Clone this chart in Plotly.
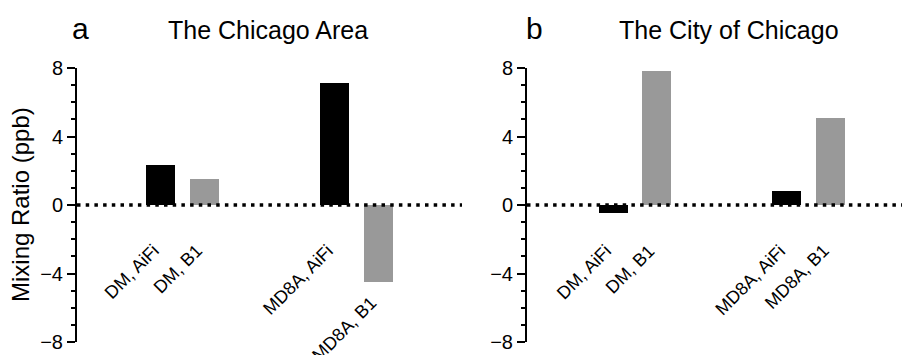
import plotly.graph_objects as go

# ---- data ----
categories = ["DM, AiFi", "DM, B1", "MD8A, AiFi", "MD8A, B1"]
area_values = [2.33, 1.52, 7.12, -4.5]      # The Chicago Area
city_values = [-0.47, 7.83, 0.82, 5.07]     # The City of Chicago
panel_letters = ["a", "b"]
panel_titles = ["The Chicago Area", "The City of Chicago"]
y_ticks = [-8, -4, 0, 4, 8]
y_title = "Mixing Ratio (ppb)"

# ---- layout constants ----
W, H = 910, 355
OFF = 8  # page body margin of the viewer
SLOTS = [0, 1, 4, 5]
BAR_COLORS = ["#000000", "#999999", "#000000", "#999999"]
FONT = "Liberation Sans, Arial, sans-serif"
TOP, BOT = 68 - OFF, 342 - OFF


def px(x):
    return (x - OFF) / W


def py(y):
    return 1 - (y - OFF) / H


panels = [
    dict(values=area_values, dom=(px(77), px(462)), rng=[-1.92, 6.93], ax="x", ay="y"),
    dict(values=city_values, dom=(px(527), px(910)), rng=[-1.98, 6.83], ax="x2", ay="y2"),
]

fig = go.Figure()
annotations = []
shapes = []
ydom = [1 - BOT / H, 1 - TOP / H]

for i, p in enumerate(panels):
    fig.add_trace(go.Bar(
        x=SLOTS, y=p["values"], width=0.667,
        marker=dict(color=BAR_COLORS, line=dict(width=0)),
        xaxis=p["ax"], yaxis=p["ay"], showlegend=False,
    ))
    xk = "xaxis" if i == 0 else "xaxis2"
    yk = "yaxis" if i == 0 else "yaxis2"
    fig.layout[xk] = dict(domain=list(p["dom"]), range=p["rng"], visible=False,
                          anchor=p["ay"], automargin=False)
    fig.layout[yk] = dict(
        domain=ydom, range=[-8, 8], anchor=p["ax"], automargin=False,
        tickvals=y_ticks, ticktext=["\u22128", "\u22124", "0", "4", "8"],
        showline=True, linecolor="black", linewidth=2,
        ticks="outside", ticklen=8, tickwidth=2, tickcolor="black",
        minor=dict(dtick=1, ticks="outside", ticklen=4, tickwidth=1.5, tickcolor="black"),
        showgrid=False, zeroline=False,
        tickfont=dict(family=FONT, size=20, color="black"),
    )
    # dotted zero line
    shapes.append(dict(type="line", xref=f"{p['ax']} domain", yref=p["ay"],
                       x0=0, x1=1, y0=0, y1=0,
                       line=dict(color="black", width=3.5, dash="3.5px,5.2px")))
    # category labels
    for s, cat, v in zip(SLOTS, categories, p["values"]):
        annotations.append(dict(
            x=s, y=min(-1.93, v - 0.45), xref=p["ax"], yref=p["ay"],
            text=cat, showarrow=False, textangle=-45,
            xanchor="right", yanchor="top", xshift=5,
            font=dict(family=FONT, size=18, color="black"),
        ))

# panel letters and titles
letter_x = [80, 534]
title_x = [268, 729]
for lx, tx, letter, title in zip(letter_x, title_x, panel_letters, panel_titles):
    annotations.append(dict(x=px(lx), y=py(28), xref="paper", yref="paper",
                            text=letter, showarrow=False, xanchor="center", yanchor="middle",
                            font=dict(family=FONT, size=30, color="black")))
    annotations.append(dict(x=px(tx), y=py(30), xref="paper", yref="paper",
                            text=title, showarrow=False, xanchor="center", yanchor="middle",
                            font=dict(family=FONT, size=25, color="black")))

annotations.append(dict(x=px(20), y=py(205), xref="paper", yref="paper",
                        text=y_title, showarrow=False, textangle=-90,
                        xanchor="center", yanchor="middle",
                        font=dict(family=FONT, size=24, color="black")))

fig.update_layout(
    template="none",
    width=W, height=H,
    margin=dict(l=0, r=0, t=0, b=0, pad=0, autoexpand=False),
    paper_bgcolor="white", plot_bgcolor="white",
    annotations=annotations, shapes=shapes,
    bargap=0,
)

fig.write_html("out.html")
